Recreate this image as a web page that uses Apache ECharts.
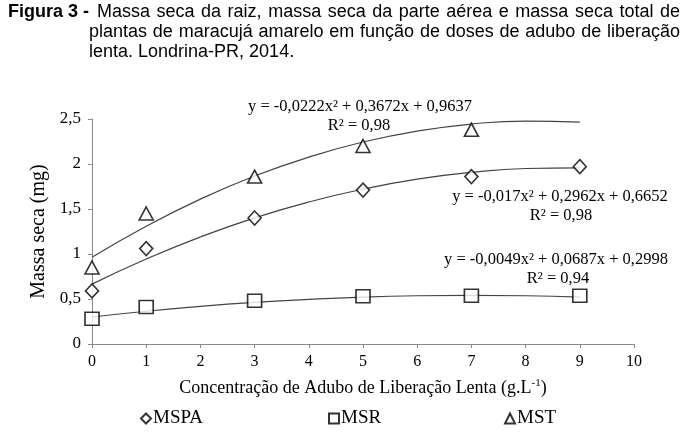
<!DOCTYPE html>
<html><head><meta charset="utf-8">
<script src="https://cdn.jsdelivr.net/npm/echarts@6/dist/echarts.min.js"></script>
<style>html,body{margin:0;padding:0;background:#fff}#c{width:687px;height:436px}</style>
</head><body><div id="c"></div>
<script>
// Observed doses (g/L)
const dosesMSPA = [0, 1, 3, 5, 7, 9];
const dosesMSR  = [0, 1, 3, 5, 7, 9];
const dosesMST  = [0, 1, 3, 5, 7];
// Observed values (mg)
const valuesMSPA = [0.59, 1.06, 1.40, 1.71, 1.86, 1.97];
const valuesMSR  = [0.28, 0.41, 0.48, 0.53, 0.535, 0.535];
const valuesMST  = [0.85, 1.45, 1.86, 2.20, 2.38];
// Trend curves at each dose 0..9
const curveX     = [0, 1, 2, 3, 4, 5, 6, 7, 8, 9];
const curveMSPA  = [0.665, 0.944, 1.189, 1.401, 1.578, 1.721, 1.831, 1.907, 1.950, 1.958];
const curveMSR   = [0.300, 0.364, 0.418, 0.462, 0.496, 0.521, 0.536, 0.541, 0.536, 0.521];
const curveMST   = [0.964, 1.309, 1.610, 1.866, 2.077, 2.244, 2.366, 2.444, 2.477, 2.465];
const xTicks = [0,1,2,3,4,5,6,7,8,9,10];
const yTicks = ['0','0,5','1','1,5','2','2,5'];
const titleBold = 'Figura 3 -';
const titleLine1 = 'Massa seca da raiz, massa seca da parte aérea e massa seca total de';
const titleLine2 = 'plantas de maracujá amarelo em função de doses de adubo de liberação';
const titleLine3 = 'lenta. Londrina-PR, 2014.';

const pair = (xs, ys) => xs.map((x, i) => [x, ys[i]]);
const serif = 'Liberation Serif';
const axisCol = '#8a8a8a';
const chart = echarts.init(document.getElementById('c'));
const markerStyle = {color: '#fff', borderColor: '#000', borderWidth: 1.6};
const curve = (name, ys) => ({
  name, type: 'line', data: pair(curveX, ys), smooth: true, showSymbol: false, symbol: 'none',
  lineStyle: {color: '#444', width: 1.2}, silent: true, z: 1
});
const legendItem = (name, left) => ({
  data: [name], left, top: 409, itemWidth: 10, itemHeight: 10, itemGap: 0,
  textStyle: {fontFamily: serif, fontSize: 19, color: '#000', padding: [0,0,0,-3]},
  padding: 0
});
const eqFont = '16.5px "Liberation Serif"';
const titleFont = '18px "Liberation Sans"';

// justify a line of words between x0 and x1
const measureCtx = document.createElement('canvas').getContext('2d');
function justify(text, font, x0, x1, y) {
  measureCtx.font = font;
  const words = text.split(' ');
  const widths = words.map(w => measureCtx.measureText(w).width);
  const total = widths.reduce((a, b) => a + b, 0);
  const gap = (x1 - x0 - total) / (words.length - 1);
  let x = x0;
  return words.map((w, i) => {
    const el = {type: 'text', x, y, style: {text: w, font, fill: '#000', verticalAlign: 'middle'}};
    x += widths[i] + gap;
    return el;
  });
}

chart.setOption({
  animation: false,
  grid: {left: 92, top: 119, width: 542, height: 225, containLabel: false},
  xAxis: {
    type: 'value', min: 0, max: 10, interval: 1,
    axisLine: {show: true, lineStyle: {color: axisCol, width: 1}},
    axisTick: {show: true, length: 4, lineStyle: {color: axisCol}},
    splitLine: {show: false},
    axisLabel: {fontFamily: serif, fontSize: 16, color: '#000', margin: 10,
      formatter: v => xTicks.includes(v) ? String(v) : ''},
    name: '{a|Concentração de Adubo de Liberação Lenta (g.L}{s|-1}{a|)}',
    nameLocation: 'middle', nameGap: 34,
    nameTextStyle: {rich: {
      a: {fontFamily: serif, fontSize: 18, color: '#000'},
      s: {fontFamily: serif, fontSize: 11, color: '#000', verticalAlign: 'top', padding: [0,0,9,0]}
    }}
  },
  yAxis: {
    type: 'value', min: 0, max: 2.5, interval: 0.5,
    axisLine: {show: true, lineStyle: {color: axisCol, width: 1}},
    axisTick: {show: true, length: 4, lineStyle: {color: axisCol}},
    splitLine: {show: false},
    axisLabel: {fontFamily: serif, fontSize: 17, color: '#000', margin: 11,
      formatter: v => yTicks[Math.round(v / 0.5)]},
    name: 'Massa seca (mg)', nameLocation: 'middle', nameGap: 41,
    nameTextStyle: {fontFamily: serif, fontSize: 20, color: '#000'}
  },
  legend: [legendItem('MSPA', 140), legendItem('MSR', 328), legendItem('MST', 504)],
  series: [
    curve('cMST', curveMST), curve('cMSPA', curveMSPA), curve('cMSR', curveMSR),
    {name: 'MSPA', type: 'scatter', data: pair(dosesMSPA, valuesMSPA), symbol: 'diamond',
     symbolSize: [13, 14], itemStyle: markerStyle, z: 3},
    {name: 'MSR', type: 'scatter', data: pair(dosesMSR, valuesMSR), symbol: 'rect',
     symbolSize: [14, 13], itemStyle: markerStyle, z: 3},
    {name: 'MST', type: 'scatter', data: pair(dosesMST, valuesMST), symbol: 'triangle',
     symbolSize: [14, 13], itemStyle: markerStyle, z: 3}
  ],
  graphic: [
    {type: 'text', x: 8, y: 12, style: {text: titleBold, font: 'bold 18px "Liberation Sans"', fill: '#000', verticalAlign: 'middle'}},
    ...justify(titleLine1, titleFont, 97, 680, 12),
    ...justify(titleLine2, titleFont, 89, 680, 32),
    {type: 'text', x: 89, y: 52, style: {text: titleLine3, font: titleFont, fill: '#000', verticalAlign: 'middle'}},
    {type: 'text', x: 360, y: 107, style: {text: 'y = -0,0222x² + 0,3672x + 0,9637', font: eqFont, fill: '#000', align: 'center', verticalAlign: 'middle'}},
    {type: 'text', x: 359, y: 126, style: {text: 'R² = 0,98', font: eqFont, fill: '#000', align: 'center', verticalAlign: 'middle'}},
    {type: 'text', x: 560, y: 197, style: {text: 'y = -0,017x² + 0,2962x + 0,6652', font: eqFont, fill: '#000', align: 'center', verticalAlign: 'middle'}},
    {type: 'text', x: 561, y: 216, style: {text: 'R² = 0,98', font: eqFont, fill: '#000', align: 'center', verticalAlign: 'middle'}},
    {type: 'text', x: 556, y: 260, style: {text: 'y = -0,0049x² + 0,0687x + 0,2998', font: eqFont, fill: '#000', align: 'center', verticalAlign: 'middle'}},
    {type: 'text', x: 558, y: 279, style: {text: 'R² = 0,94', font: eqFont, fill: '#000', align: 'center', verticalAlign: 'middle'}}
  ]
});
</script></body></html>
